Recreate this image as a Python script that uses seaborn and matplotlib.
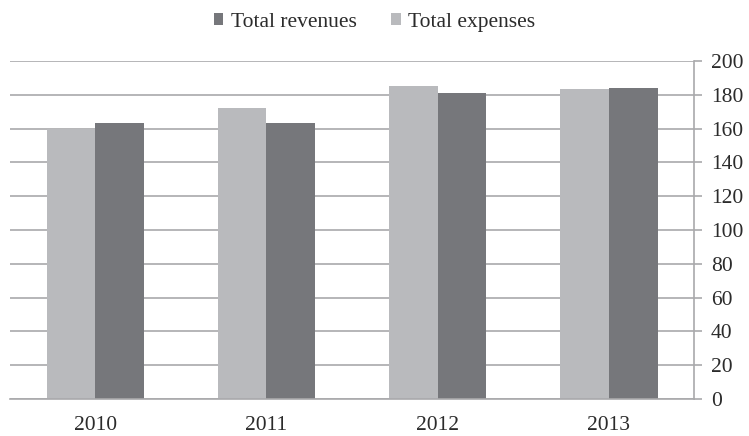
import pandas as pd
import matplotlib.pyplot as plt
import seaborn as sns

# ─── Data ─────────────────────────────────────────────────────────────
years = ["2010", "2011", "2012", "2013"]
total_expenses = [160, 172, 185, 183.5]
total_revenues = [163.5, 163.5, 181, 184]
y_ticks = list(range(0, 201, 20))

LIGHT = "#b9babd"
DARK = "#76777b"
GRID = "#a9a9ab"
TEXT = "#2b2b2b"
FS = 15.5


def main():
    df = pd.DataFrame({
        "year": years * 2,
        "value": total_expenses + total_revenues,
        "series": ["Total expenses"] * len(years) + ["Total revenues"] * len(years),
    })

    sns.set_theme(style="white")
    plt.rcParams['font.family'] = ['Liberation Serif', 'DejaVu Serif']
    plt.rcParams.update({'font.size': FS})

    fig, ax = plt.subplots(figsize=(7.49, 4.36), dpi=100)
    sns.barplot(data=df, x="year", y="value", hue="series",
                hue_order=["Total expenses", "Total revenues"],
                palette=[LIGHT, DARK], width=0.57, saturation=1,
                edgecolor="none", ax=ax)

    ax.set_ylim(0, 200)
    ax.set_xlim(-0.5, len(years) - 0.5)
    ax.set_yticks(y_ticks)
    ax.yaxis.tick_right()
    ax.grid(axis="y", color=GRID, linewidth=1.2)
    ax.set_axisbelow(True)
    ax.set_xlabel("")
    ax.set_ylabel("")

    for side in ["top", "left"]:
        ax.spines[side].set_visible(False)
    for side in ["right", "bottom"]:
        ax.spines[side].set_color(GRID)
        ax.spines[side].set_linewidth(1.2)

    # category boundary ticks on the x axis, labels centred
    ax.set_xticks([i - 0.5 for i in range(len(years) + 1)], minor=True)
    ax.tick_params(axis="x", which="minor", length=6, color=GRID, width=1.2)
    ax.tick_params(axis="x", which="major", length=0, labelsize=FS, colors=TEXT, pad=12)
    ax.tick_params(axis="y", length=6, color=GRID, width=1.2, labelsize=FS,
                   colors=TEXT, pad=6)

    handles, labels = ax.get_legend_handles_labels()
    order = [labels.index("Total revenues"), labels.index("Total expenses")]
    ax.legend([handles[i] for i in order], [labels[i] for i in order],
              loc="upper center", bbox_to_anchor=(0.5, 1.015), bbox_transform=fig.transFigure,
              ncol=2, frameon=False, fontsize=FS, handlelength=0.45, handleheight=0.45,
              handletextpad=0.35, columnspacing=1.6, labelcolor=TEXT)

    fig.subplots_adjust(left=0.013, right=0.927, top=0.86, bottom=0.085)
    fig.savefig("out.png", dpi=100)
    plt.close(fig)


if __name__ == "__main__":
    main()
